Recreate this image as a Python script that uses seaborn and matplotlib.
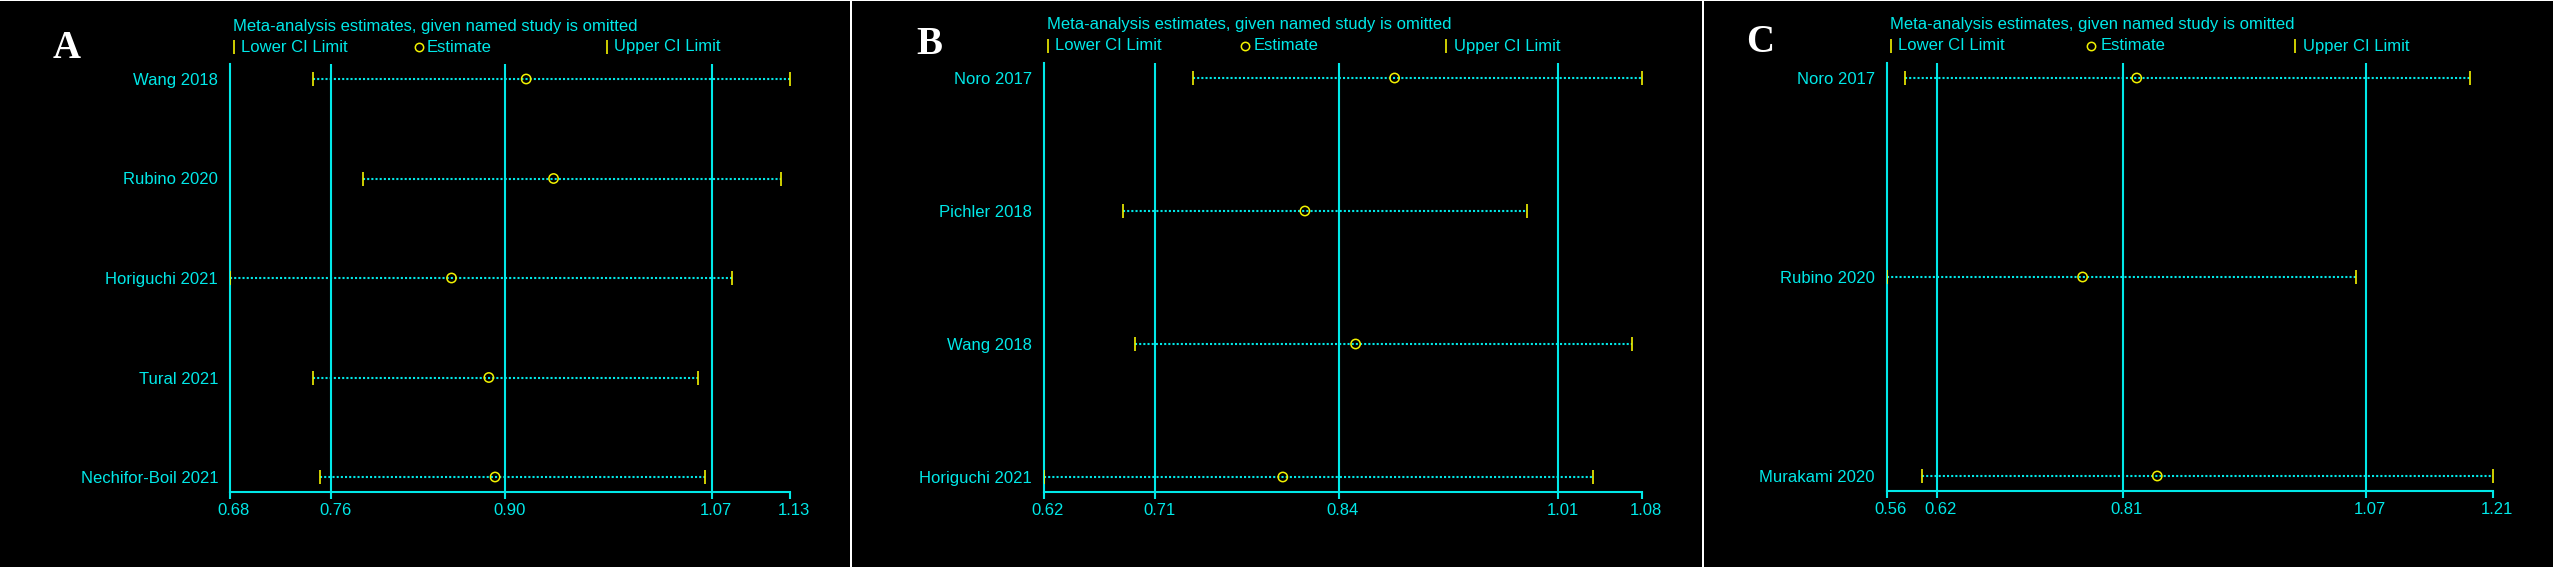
import numpy as np
import pandas as pd
import matplotlib
matplotlib.use("Agg")
import matplotlib.pyplot as plt
import matplotlib.transforms as mtransforms
from matplotlib.patches import Rectangle
import seaborn as sns

# -------------------------------
# Data
# -------------------------------
A_studies = ["Wang 2018", "Rubino 2020", "Horiguchi 2021", "Tural 2021", "Nechifor-Boil 2021"]
A_est = [0.918, 0.940, 0.858, 0.888, 0.893]
A_lower = [0.747, 0.787, 0.680, 0.747, 0.752]
A_upper = [1.130, 1.123, 1.083, 1.056, 1.062]
A_overall = [0.7615, 0.9012, 1.067]          # lower CI, estimate, upper CI
A_ticklabels = ["0.68", "0.76", "0.90", "1.07", "1.13"]

B_studies = ["Noro 2017", "Pichler 2018", "Wang 2018", "Horiguchi 2021"]
B_est = [0.890, 0.821, 0.860, 0.804]
B_lower = [0.735, 0.681, 0.690, 0.620]
B_upper = [1.080, 0.992, 1.073, 1.043]
B_overall = [0.706, 0.847, 1.016]
B_ticklabels = ["0.62", "0.71", "0.84", "1.01", "1.08"]

C_studies = ["Noro 2017", "Rubino 2020", "Murakami 2020"]
C_est = [0.828, 0.770, 0.850]
C_lower = [0.580, 0.560, 0.598]
C_upper = [1.185, 1.063, 1.210]
C_overall = [0.614, 0.813, 1.074]
C_ticklabels = ["0.56", "0.62", "0.81", "1.07", "1.21"]

TITLE = "Meta-analysis estimates, given named study is omitted"

# -------------------------------
# Style
# -------------------------------
sns.set_style("dark", {"axes.facecolor": "black"})
plt.rcParams["font.family"] = ["Liberation Sans", "DejaVu Sans"]

CYAN = "#00E8E8"
YELLOW = "#F2F200"
W, H = 2559, 572
DPI = 100

fig = plt.figure(figsize=(W / DPI, H / DPI), dpi=DPI, facecolor="white")

# panel backgrounds (pixels: left, right)
for x0, x1 in [(0, 850), (852, 1702), (1704, 2553)]:
    fig.patches.append(Rectangle((x0 / W, 1 - 567 / H), (x1 - x0) / W, 566 / H,
                                 transform=fig.transFigure, facecolor="black",
                                 edgecolor="none", zorder=-10))

panels = [
    ("A", A_studies, A_est, A_lower, A_upper, A_overall, A_ticklabels, (230, 790, 64, 492), (67, 48)),
    ("B", B_studies, B_est, B_lower, B_upper, B_overall, B_ticklabels, (1043.6, 1641.6, 63, 492), (929.5, 45)),
    ("C", C_studies, C_est, C_lower, C_upper, C_overall, C_ticklabels, (1886.6, 2493.3, 63, 491), (1760, 43)),
]

for letter, studies, est, lower, upper, overall, ticklabels, box, lpos in panels:
    left, right, top, bottom = box
    ax = fig.add_axes([left / W, 1 - bottom / H, (right - left) / W, (bottom - top) / H])
    ax.set_facecolor("black")

    df = pd.DataFrame({"study": studies, "est": est, "lower": lower, "upper": upper})
    df["row"] = np.arange(len(df))

    lo, hi = min(lower), max(upper)

    # reference lines for the overall estimate and its CI
    for v in overall:
        ax.axvline(v, color=CYAN, lw=1.5, zorder=1)

    # dotted CI lines
    ax.hlines(df["row"], df["lower"], df["upper"], colors=CYAN, linestyles=(0, (1, 1)),
              linewidth=1.5, zorder=2)

    # CI limits and estimates
    sns.scatterplot(data=df, x="lower", y="row", marker="|", color=YELLOW, s=90,
                    linewidth=1.2, ax=ax, zorder=3, legend=False)
    sns.scatterplot(data=df, x="upper", y="row", marker="|", color=YELLOW, s=90,
                    linewidth=1.2, ax=ax, zorder=3, legend=False)
    sns.scatterplot(data=df, x="est", y="row", marker="o", facecolors="none",
                    edgecolors=YELLOW, s=45, linewidth=1.1, ax=ax, zorder=4, legend=False)

    n = len(df)
    m = 15 * (n - 1) / ((bottom - top) - 30)
    ax.set_ylim(n - 1 + m, -m)
    ax.set_xlim(lo, hi)

    ax.set_yticks(df["row"])
    ax.set_yticklabels(studies)
    ax.set_xticks([lo] + list(overall) + [hi])
    ax.set_xticklabels(ticklabels)
    ax.set_xlabel("")
    ax.set_ylabel("")
    ax.grid(False)

    for s in ["top", "right"]:
        ax.spines[s].set_visible(False)
    for s in ["left", "bottom"]:
        ax.spines[s].set_visible(True)
        ax.spines[s].set_color(CYAN)
        ax.spines[s].set_linewidth(1.5)

    ax.tick_params(axis="y", length=0, pad=8.5, labelsize=12, labelcolor=CYAN)
    ax.tick_params(axis="x", length=5, width=1.5, color=CYAN, direction="out",
                   pad=3, labelsize=12, labelcolor=CYAN, bottom=True)
    shift = mtransforms.ScaledTranslation(4 / DPI, 0, fig.dpi_scale_trans)
    for lab in ax.get_xticklabels():
        lab.set_transform(lab.get_transform() + shift)

    # title and legend above the plot area
    t_title = mtransforms.offset_copy(ax.transAxes, fig=fig, x=0, y=38, units="dots")
    t_leg = mtransforms.offset_copy(ax.transAxes, fig=fig, x=0, y=17, units="dots")
    ax.text(0.005, 1, TITLE, transform=t_title, color=CYAN, fontsize=12, va="center", ha="left")

    ax.plot([0.007], [1], marker="|", color=YELLOW, ms=9.5, mew=1.2, transform=t_leg, clip_on=False)
    ax.text(0.019, 1, "Lower CI Limit", transform=t_leg, color=CYAN, fontsize=12, va="center")
    ax.plot([0.3375], [1], marker="o", mfc="none", mec=YELLOW, ms=6, mew=1.1, transform=t_leg, clip_on=False)
    ax.text(0.352, 1, "Estimate", transform=t_leg, color=CYAN, fontsize=12, va="center")
    ax.plot([0.673], [1], marker="|", color=YELLOW, ms=9.5, mew=1.2, transform=t_leg, clip_on=False)
    ax.text(0.686, 1, "Upper CI Limit", transform=t_leg, color=CYAN, fontsize=12, va="center")

    # panel letter
    fig.text(lpos[0] / W, 1 - lpos[1] / H, letter, color="white", fontsize=28,
             fontweight="bold", family=["Liberation Serif", "DejaVu Serif"],
             ha="center", va="center")

fig.savefig("out.png", dpi=DPI, facecolor=fig.get_facecolor())
